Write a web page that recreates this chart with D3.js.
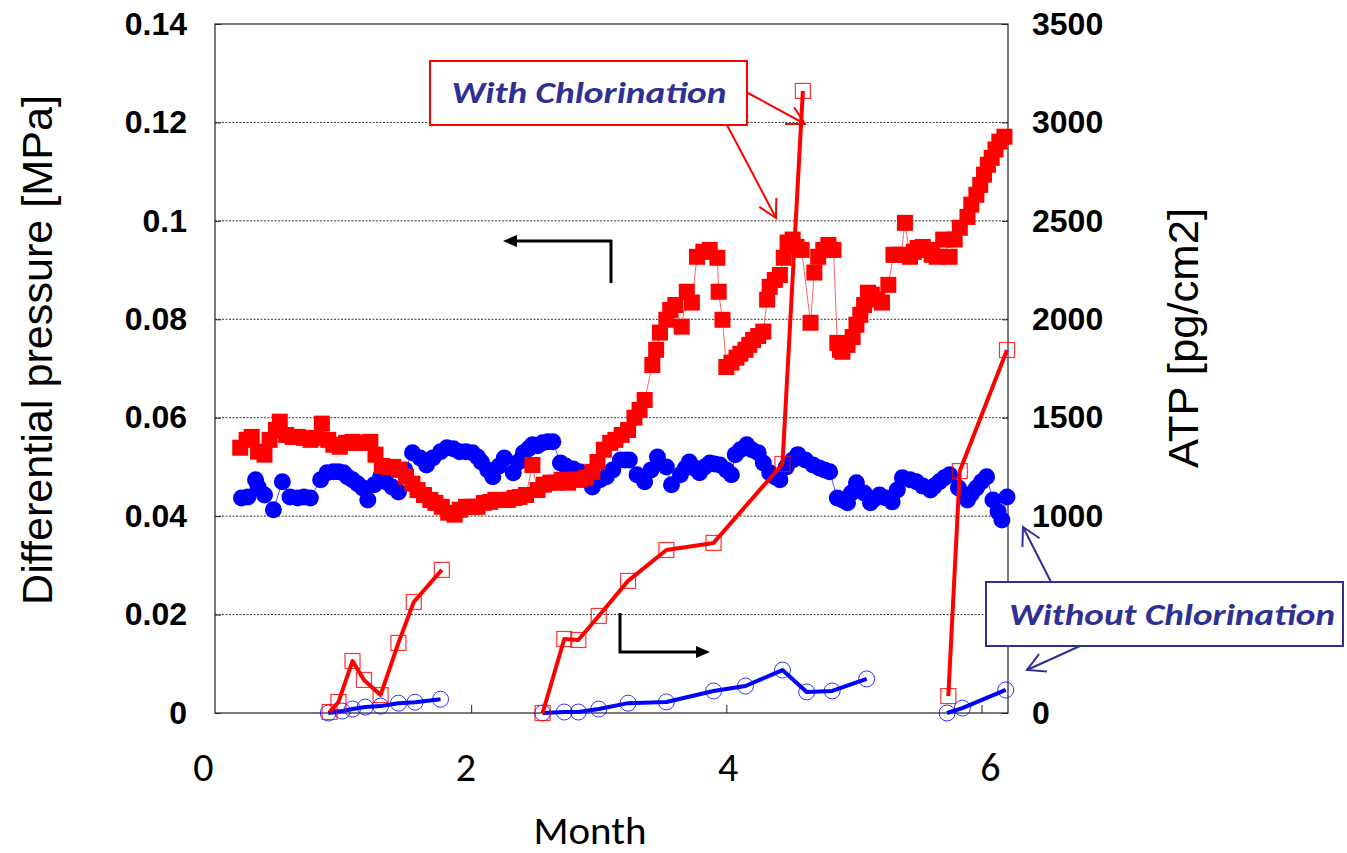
<!DOCTYPE html>
<html><head><meta charset="utf-8">
<script src="https://cdn.jsdelivr.net/npm/d3@7"></script>
<style>body{margin:0;background:#fff}</style>
</head><body>
<svg id="chart" width="1347" height="853"></svg>
<script>
// ---------- DATA ----------
const leftTicks = [0,0.02,0.04,0.06,0.08,0.1,0.12,0.14];
const leftTickLabels = ["0","0.02","0.04","0.06","0.08","0.1","0.12","0.14"];
const rightTicks = [0,500,1000,1500,2000,2500,3000,3500];
// the "500" label sits under the "Without Chlorination" callout in the reference
const rightTickLabels = ["0","","1000","1500","2000","2500","3000","3500"];
const monthTicks = [0,2,4,6];
const monthTickLabels = ["0","2","4","6"];
const gridValues = [0.02,0.04,0.06,0.08,0.1,0.12];

// Differential pressure, with chlorination (red filled squares)
const pdChlorMonths = [0.19,0.24,0.28,0.33,0.38,0.42,0.47,0.50,0.55,0.60,
0.64,0.69,0.74,0.78,0.83,0.88,0.92,0.97,1.02,1.07,
1.11,1.16,1.21,1.25,1.30,1.35,1.39,1.44,1.49,1.54,
1.58,1.63,1.68,1.72,1.77,1.82,1.87,1.91,1.96,2.01,
2.05,2.10,2.15,2.19,2.24,2.29,2.34,2.38,2.43,2.48,
2.52,2.57,2.62,2.66,2.71,2.76,2.81,2.85,2.90,2.95,
2.99,3.04,3.09,3.13,3.18,3.23,3.28,3.32,3.36,3.42,
3.45,3.48,3.53,3.56,3.60,3.65,3.69,3.73,3.77,3.82,
3.87,3.93,3.94,3.97,4.00,4.04,4.08,4.11,4.15,4.18,
4.21,4.25,4.29,4.32,4.34,4.38,4.42,4.45,4.48,4.52,
4.55,4.59,4.66,4.69,4.72,4.76,4.80,4.84,4.87,4.89,
4.91,4.95,4.99,5.02,5.05,5.08,5.11,5.14,5.18,5.22,
5.27,5.31,5.34,5.37,5.40,5.44,5.47,5.50,5.54,5.58,
5.61,5.65,5.70,5.75,5.79,5.83,5.89,5.92,5.96,5.99,
6.02,6.05,6.08,6.11,6.14,6.18];
const pdChlor = [0.0539,0.0555,0.0561,0.0531,0.0525,0.0555,0.0575,0.0592,0.0565,0.0561,
0.0561,0.0559,0.0555,0.0559,0.0588,0.0555,0.0545,0.0541,0.0549,0.0551,
0.0549,0.0549,0.0551,0.0525,0.0502,0.0500,0.0500,0.0494,0.0480,0.0466,
0.0453,0.0443,0.0433,0.0427,0.0419,0.0407,0.0403,0.0413,0.0419,0.0419,
0.0419,0.0427,0.0429,0.0433,0.0433,0.0433,0.0437,0.0439,0.0443,0.0504,
0.0453,0.0464,0.0468,0.0468,0.0474,0.0468,0.0474,0.0474,0.0478,0.0490,
0.0510,0.0535,0.0549,0.0555,0.0565,0.0575,0.0600,0.0616,0.0636,0.0707,
0.0738,0.0773,0.0799,0.0819,0.0829,0.0785,0.0856,0.0834,0.0927,0.0937,
0.0941,0.0925,0.0856,0.0799,0.0703,0.0712,0.0722,0.0730,0.0738,0.0748,
0.0758,0.0766,0.0775,0.0840,0.0866,0.0880,0.0890,0.0925,0.0956,0.0962,
0.0947,0.0941,0.0793,0.0895,0.0927,0.0941,0.0951,0.0941,0.0752,0.0738,
0.0734,0.0748,0.0764,0.0789,0.0809,0.0829,0.0854,0.0850,0.0840,0.0834,
0.0870,0.0931,0.0931,0.0931,0.0996,0.0927,0.0937,0.0945,0.0947,0.0941,
0.0931,0.0927,0.0962,0.0927,0.0962,0.0986,0.1008,0.1033,0.1053,0.1073,
0.1094,0.1114,0.1128,0.1145,0.1161,0.1171];

// Differential pressure, without chlorination (blue filled circles)
const pdNoMonths = [0.20,0.25,0.31,0.33,0.38,0.45,0.52,0.58,0.64,0.69,
0.74,0.82,0.87,0.92,0.96,1.00,1.03,1.07,1.11,1.15,
1.19,1.24,1.29,1.33,1.38,1.43,1.48,1.54,1.60,1.65,
1.70,1.76,1.81,1.86,1.91,1.96,2.01,2.05,2.08,2.13,
2.17,2.22,2.26,2.33,2.37,2.41,2.45,2.48,2.52,2.56,
2.60,2.64,2.70,2.74,2.80,2.85,2.90,2.95,3.01,3.06,
3.11,3.17,3.21,3.24,3.30,3.36,3.41,3.46,3.53,3.57,
3.64,3.68,3.71,3.75,3.79,3.83,3.87,3.91,3.95,4.00,
4.04,4.07,4.11,4.16,4.20,4.25,4.29,4.34,4.38,4.42,
4.47,4.52,4.56,4.62,4.68,4.73,4.77,4.81,4.87,4.91,
4.95,4.98,5.02,5.08,5.13,5.16,5.20,5.25,5.30,5.34,
5.38,5.44,5.49,5.54,5.60,5.63,5.67,5.71,5.75,5.82,
5.89,5.92,5.96,6.00,6.04,6.09,6.13,6.16,6.20];
const pdNo = [0.0437,0.0439,0.0474,0.0459,0.0443,0.0413,0.0470,0.0439,0.0437,0.0439,
0.0437,0.0474,0.0488,0.0490,0.0490,0.0488,0.0480,0.0474,0.0466,0.0457,
0.0433,0.0464,0.0480,0.0470,0.0459,0.0449,0.0494,0.0529,0.0518,0.0504,
0.0518,0.0531,0.0539,0.0537,0.0531,0.0531,0.0529,0.0520,0.0510,0.0494,
0.0480,0.0502,0.0518,0.0488,0.0510,0.0529,0.0537,0.0545,0.0543,0.0549,
0.0551,0.0551,0.0508,0.0502,0.0496,0.0490,0.0474,0.0459,0.0474,0.0480,
0.0494,0.0514,0.0514,0.0514,0.0484,0.0470,0.0494,0.0520,0.0500,0.0464,
0.0484,0.0498,0.0510,0.0498,0.0488,0.0500,0.0508,0.0506,0.0504,0.0494,
0.0484,0.0525,0.0535,0.0545,0.0535,0.0529,0.0508,0.0488,0.0480,0.0474,
0.0500,0.0514,0.0525,0.0514,0.0504,0.0498,0.0494,0.0490,0.0437,0.0433,
0.0427,0.0447,0.0468,0.0447,0.0427,0.0435,0.0443,0.0437,0.0429,0.0453,
0.0478,0.0474,0.0470,0.0461,0.0453,0.0461,0.0470,0.0478,0.0484,0.0457,
0.0433,0.0445,0.0457,0.0470,0.0480,0.0433,0.0409,0.0392,0.0439];

// ATP, with chlorination (red open squares), three runs
const atpChlorMonths1 = [0.89,0.96,1.07,1.16,1.29,1.43,1.55,1.77];
const atpChlor1 = [5,56,264,168,91,356,564,727];
const atpChlorMonths2 = [2.56,2.73,2.84,3.00,3.23,3.53,3.90,4.44,4.60];
const atpChlor2 = [0,376,371,493,671,828,864,1265,3160];
const atpChlorMonths3 = [5.74,5.83,6.20];
const atpChlor3 = [86,1229,1844];

// ATP, without chlorination (blue open circles), three runs
const atpNoMonths1 = [0.88,0.99,1.07,1.17,1.29,1.43,1.56,1.76];
const atpNo1 = [0,10,20,30,35,50,55,70];
const atpNoMonths2 = [2.56,2.73,2.84,3.00,3.23,3.53,3.90,4.15,4.44,4.63,4.83,5.10];
const atpNo2 = [0,5,5,20,50,56,112,137,218,107,112,173];
const atpNoMonths3 = [5.73,5.85,6.19];
const atpNo3 = [0,25,117];

// ---------- CHART ----------
const svg = d3.select("#chart");
const x = d3.scaleLinear().domain([0, 6.2]).range([216, 1007]);
const xLab = d3.scaleLinear().domain([0, 6]).range([203, 990]);
const yL = d3.scaleLinear().domain([0, 0.14]).range([713, 24]);
const yR = d3.scaleLinear().domain([0, 3500]).range([713, 24]);
const zip = (ms, vs) => ms.map((m, i) => ({m, v: vs[i]}));

const RED = "#ff0000", BLUE = "#0000ff", NAVY = "#2e3192";
const numFont = "'Liberation Sans', Arial, Helvetica, sans-serif";
const caliFont = "Carlito, 'Open Sans', 'Noto Sans', sans-serif";

// grid lines
svg.append("g").selectAll("line").data(gridValues).join("line")
  .attr("x1", x(0) - 1).attr("x2", x(6.2) + 1)
  .attr("y1", d => yL(d)).attr("y2", d => yL(d))
  .attr("stroke", "#333").attr("stroke-width", 1).attr("stroke-dasharray", "2,1.5");

// frame
svg.append("rect").attr("x", x(0) - 1).attr("y", yL(0.14))
  .attr("width", x(6.2) + 1 - (x(0) - 1)).attr("height", yL(0) - yL(0.14))
  .attr("fill", "none").attr("stroke", "#222").attr("stroke-width", 1.2);

// left axis
const gL = svg.append("g").attr("transform", `translate(${x(0) - 1},0)`)
  .call(d3.axisLeft(yL).tickValues(leftTicks).tickFormat((d, i) => leftTickLabels[i])
    .tickSize(-6).tickPadding(28));
gL.select(".domain").remove();
gL.selectAll("line").attr("stroke", "#222");
gL.selectAll("text").attr("font-family", numFont).attr("font-size", 32)
  .attr("font-weight", "bold").attr("fill", "#000");

// right axis
const gR = svg.append("g").attr("transform", `translate(${x(6.2) + 1},0)`)
  .call(d3.axisRight(yR).tickValues(rightTicks).tickFormat((d, i) => rightTickLabels[i])
    .tickSize(-6).tickPadding(24));
gR.select(".domain").remove();
gR.selectAll("line").attr("stroke", "#222");
gR.selectAll("text").attr("font-family", numFont).attr("font-size", 32)
  .attr("font-weight", "bold").attr("fill", "#000");

// bottom axis ticks
const gB = svg.append("g").attr("transform", `translate(0,${yL(0)})`)
  .call(d3.axisBottom(x).tickValues(monthTicks.filter(d => d > 0)).tickFormat("").tickSize(-8));
gB.select(".domain").remove();
gB.selectAll("line").attr("stroke", "#222");
// bottom axis labels
const gBL = svg.append("g").attr("transform", `translate(0,${yL(0)})`)
  .call(d3.axisBottom(xLab).tickValues(monthTicks).tickFormat((d, i) => monthTickLabels[i])
    .tickSize(0).tickPadding(40));
gBL.select(".domain").remove();
gBL.selectAll("text").attr("font-family", caliFont).attr("font-size", 40).attr("fill", "#000");

// axis titles
svg.append("text").attr("transform", "translate(52,350) rotate(-90)")
  .attr("text-anchor", "middle").attr("font-family", numFont).attr("font-size", 42)
  .attr("textLength", 510).attr("lengthAdjust", "spacingAndGlyphs")
  .text("Differential pressure [MPa]");
svg.append("text").attr("transform", "translate(1198,338) rotate(-90)")
  .attr("text-anchor", "middle").attr("font-family", numFont).attr("font-size", 42)
  .attr("textLength", 260).attr("lengthAdjust", "spacingAndGlyphs")
  .text("ATP [pg/cm2]");
svg.append("text").attr("x", 590).attr("y", 844)
  .attr("text-anchor", "middle").attr("font-family", caliFont).attr("font-size", 38)
  .attr("textLength", 113).attr("lengthAdjust", "spacingAndGlyphs")
  .text("Month");

// ---------- SERIES ----------
const lineL = d3.line().x(d => x(d.m)).y(d => yL(d.v));
const lineR = d3.line().x(d => x(d.m)).y(d => yR(d.v));

// DP without chlorination
const dNo = zip(pdNoMonths, pdNo);
svg.append("path").datum(dNo).attr("d", lineL).attr("fill", "none")
  .attr("stroke", BLUE).attr("stroke-width", 1).attr("stroke-opacity", 0.7);
svg.append("g").selectAll("circle").data(dNo).join("circle")
  .attr("cx", d => x(d.m)).attr("cy", d => yL(d.v)).attr("r", 8.5).attr("fill", BLUE);

// DP with chlorination
const dCh = zip(pdChlorMonths, pdChlor);
svg.append("path").datum(dCh).attr("d", lineL).attr("fill", "none")
  .attr("stroke", RED).attr("stroke-width", 1).attr("stroke-opacity", 0.6);
svg.append("g").selectAll("rect").data(dCh).join("rect")
  .attr("x", d => x(d.m) - 8).attr("y", d => yL(d.v) - 8)
  .attr("width", 16).attr("height", 16).attr("fill", RED);

// ATP without chlorination
[[atpNoMonths1, atpNo1], [atpNoMonths2, atpNo2], [atpNoMonths3, atpNo3]].forEach(([ms, vs]) => {
  const d = zip(ms, vs);
  svg.append("path").datum(d).attr("d", lineR).attr("fill", "none")
    .attr("stroke", BLUE).attr("stroke-width", 4).attr("stroke-linejoin", "round");
  svg.append("g").selectAll("circle").data(d).join("circle")
    .attr("cx", p => x(p.m)).attr("cy", p => yR(p.v)).attr("r", 8)
    .attr("fill", "none").attr("stroke", BLUE).attr("stroke-width", 1).attr("stroke-opacity", 0.8);
});

// ATP with chlorination
[[atpChlorMonths1, atpChlor1], [atpChlorMonths2, atpChlor2], [atpChlorMonths3, atpChlor3]].forEach(([ms, vs]) => {
  const d = zip(ms, vs);
  svg.append("path").datum(d).attr("d", lineR).attr("fill", "none")
    .attr("stroke", RED).attr("stroke-width", 4).attr("stroke-linejoin", "round");
  svg.append("g").selectAll("rect").data(d).join("rect")
    .attr("x", p => x(p.m) - 7.5).attr("y", p => yR(p.v) - 7.5).attr("width", 15).attr("height", 15)
    .attr("fill", "none").attr("stroke", RED).attr("stroke-width", 1.2).attr("stroke-opacity", 0.8);
});

// ---------- ANNOTATIONS ----------
function openArrow(x1, y1, x2, y2, color, w) {
  const a = Math.atan2(y2 - y1, x2 - x1), L = 20, s = 0.5;
  svg.append("line").attr("x1", x1).attr("y1", y1).attr("x2", x2).attr("y2", y2)
    .attr("stroke", color).attr("stroke-width", w);
  const p1 = [x2 - L * Math.cos(a - s), y2 - L * Math.sin(a - s)];
  const p2 = [x2 - L * Math.cos(a + s), y2 - L * Math.sin(a + s)];
  svg.append("path").attr("d", `M${p1}L${x2},${y2}L${p2}`)
    .attr("fill", "none").attr("stroke", color).attr("stroke-width", w);
}
function solidArrow(x1, y1, x2, y2, w) {
  const a = Math.atan2(y2 - y1, x2 - x1), L = 14, hw = 6;
  const bx = x2 - L * Math.cos(a), by = y2 - L * Math.sin(a);
  svg.append("line").attr("x1", x1).attr("y1", y1).attr("x2", bx).attr("y2", by)
    .attr("stroke", "#000").attr("stroke-width", w);
  const nx = -Math.sin(a) * hw, ny = Math.cos(a) * hw;
  svg.append("path").attr("d", `M${x2},${y2}L${bx + nx},${by + ny}L${bx - nx},${by - ny}Z`).attr("fill", "#000");
}

// "With Chlorination" callout
openArrow(748, 93, 805, 124, RED, 2);
openArrow(727, 125, 776, 218, RED, 2);
svg.append("rect").attr("x", 430).attr("y", 61).attr("width", 317).attr("height", 64)
  .attr("fill", "#fff").attr("stroke", RED).attr("stroke-width", 2);
svg.append("text").attr("x", 589).attr("y", 103).attr("text-anchor", "middle")
  .attr("font-family", caliFont).attr("font-size", 31).attr("font-weight", "bold")
  .attr("font-style", "italic").attr("fill", NAVY)
  .attr("textLength", 275).attr("lengthAdjust", "spacingAndGlyphs").text("With Chlorination");

// "Without Chlorination" callout
openArrow(1051, 582, 1023, 527, NAVY, 2);
openArrow(1080, 646, 1027, 670, NAVY, 2);
svg.append("rect").attr("x", 986).attr("y", 582).attr("width", 357).attr("height", 64)
  .attr("fill", "#fff").attr("stroke", NAVY).attr("stroke-width", 2);
svg.append("text").attr("x", 1172).attr("y", 625).attr("text-anchor", "middle")
  .attr("font-family", caliFont).attr("font-size", 31).attr("font-weight", "bold")
  .attr("font-style", "italic").attr("fill", NAVY)
  .attr("textLength", 326).attr("lengthAdjust", "spacingAndGlyphs").text("Without Chlorination");

// axis-pointer arrows
svg.append("line").attr("x1", 611).attr("y1", 283).attr("x2", 611).attr("y2", 240)
  .attr("stroke", "#000").attr("stroke-width", 3);
solidArrow(612, 241, 503, 241, 3);
svg.append("line").attr("x1", 620).attr("y1", 613).attr("x2", 620).attr("y2", 653)
  .attr("stroke", "#000").attr("stroke-width", 3);
solidArrow(619, 652, 710, 652, 3);
</script>
</body></html>
